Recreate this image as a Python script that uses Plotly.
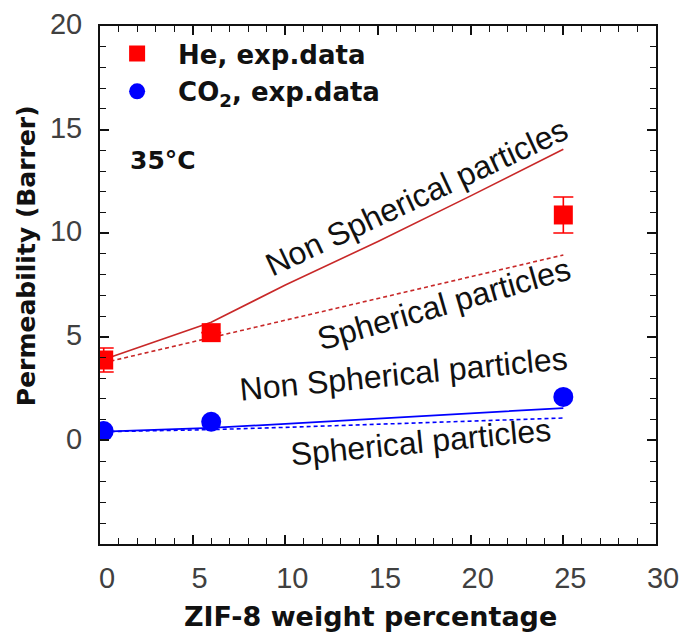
import plotly.graph_objects as go

# Experimental data
x_exp = [0.2, 6, 25]
he_exp = [3.88, 5.2, 10.88]
he_err = [0.58, 0.0, 0.87]
co2_exp = [0.45, 0.9, 2.1]

# Model curves
x_model = [0.2, 6, 10, 15, 20, 25]
he_nonsph = [3.9, 5.7, 7.5, 9.6, 11.8, 14.05]
he_sph = [3.75, 4.95, 5.8, 6.85, 7.9, 8.95]
co2_nonsph = [0.42, 0.6, 0.8, 1.05, 1.3, 1.56]
co2_sph = [0.42, 0.52, 0.63, 0.78, 0.93, 1.08]

RED = "#ff0000"
LRED = "#c82828"
BLUE = "#0000ff"
FONT = "Liberation Sans, Arial, sans-serif"
BFONT = "DejaVu Sans, sans-serif"

fig = go.Figure()
fig.add_trace(go.Scatter(x=x_model, y=he_nonsph, mode="lines", line=dict(color=LRED, width=1.6), showlegend=False, hoverinfo="skip"))
fig.add_trace(go.Scatter(x=x_model, y=he_sph, mode="lines", line=dict(color=LRED, width=1.6, dash="4px,3px"), showlegend=False, hoverinfo="skip"))
fig.add_trace(go.Scatter(x=x_model, y=co2_nonsph, mode="lines", line=dict(color=BLUE, width=1.8), showlegend=False, hoverinfo="skip"))
fig.add_trace(go.Scatter(x=x_model, y=co2_sph, mode="lines", line=dict(color=BLUE, width=1.6, dash="4px,3px"), showlegend=False, hoverinfo="skip"))

fig.add_trace(go.Scatter(x=x_exp, y=he_exp, mode="markers", name="<b>He, exp.data</b>", legendgroup="he",
                         marker=dict(symbol="square", size=19, color=RED),
                         error_y=dict(type="data", array=he_err, color=RED, thickness=1.6, width=10)))
fig.add_trace(go.Scatter(x=x_exp, y=co2_exp, mode="markers", name="<b>CO<sub>2</sub>, exp.data</b>", legendgroup="co2",
                         marker=dict(symbol="circle", size=20, color=BLUE)))

def label(x, y, text, angle, size=32):
    fig.add_annotation(x=x, y=y, text=text, showarrow=False, textangle=angle,
                       xanchor="center", yanchor="middle",
                       font=dict(family=FONT, size=size, color="#111111"))

label(17.1, 11.75, "Non Spherical particles", -25)
label(18.55, 6.6, "Spherical particles", -16)
label(16.35, 3.2, "Non Spherical particles", -5.5)
label(17.3, -0.06, "Spherical particles", -5.5)

def ptext(x, y, text, size, angle=0):
    fig.add_annotation(x=x, y=y, xref="paper", yref="paper", text=text, showarrow=False,
                       xanchor="center", yanchor="middle", textangle=angle,
                       font=dict(family=BFONT, size=size, color="#111111"))

ptext(0.113, 0.741, "<b>35°C</b>", 25)
ptext(-0.131, 0.556, "<b>Permeability (Barrer)</b>", 25, angle=-90)
ptext(0.487, -0.139, "<b>ZIF-8 weight percentage</b>", 27)

axis_common = dict(showline=True, linecolor="#111111", linewidth=2, mirror="ticks", ticks="inside",
                   ticklen=9, tickwidth=1.6, tickcolor="#111111", showgrid=False, zeroline=False,
                   ticklabeloverflow="allow", automargin=False,
                   tickfont=dict(family=FONT, size=29, color="#404040"),
                   minor=dict(ticks="inside", ticklen=6, tickwidth=1.4, tickcolor="#111111", dtick=1, showgrid=False))

fig.update_xaxes(range=[0, 30], tickvals=[0, 5, 10, 15, 20, 25, 30], ticklabelstandoff=7, ticklabelshift=7,
                 **axis_common)
fig.update_yaxes(range=[-5, 20], tickvals=[0, 5, 10, 15, 20], ticklabelstandoff=10, ticklabelshift=-2,
                 **axis_common)

fig.update_layout(width=682, height=635, margin=dict(l=100, r=26, t=26, b=91, autoexpand=False),
                  plot_bgcolor="white", paper_bgcolor="white",
                  legend=dict(x=-0.007, y=0.992, xanchor="left", yanchor="top", bgcolor="rgba(0,0,0,0)",
                              itemwidth=72, tracegroupgap=1,
                              font=dict(family=BFONT, size=26, color="#111111")))

# remove the page's default body margin so the figure sits at the window's top-left corner
fig.write_html("out.html", config={"displayModeBar": False},
               post_script="document.body.style.margin='0';document.body.style.overflow='hidden';")
